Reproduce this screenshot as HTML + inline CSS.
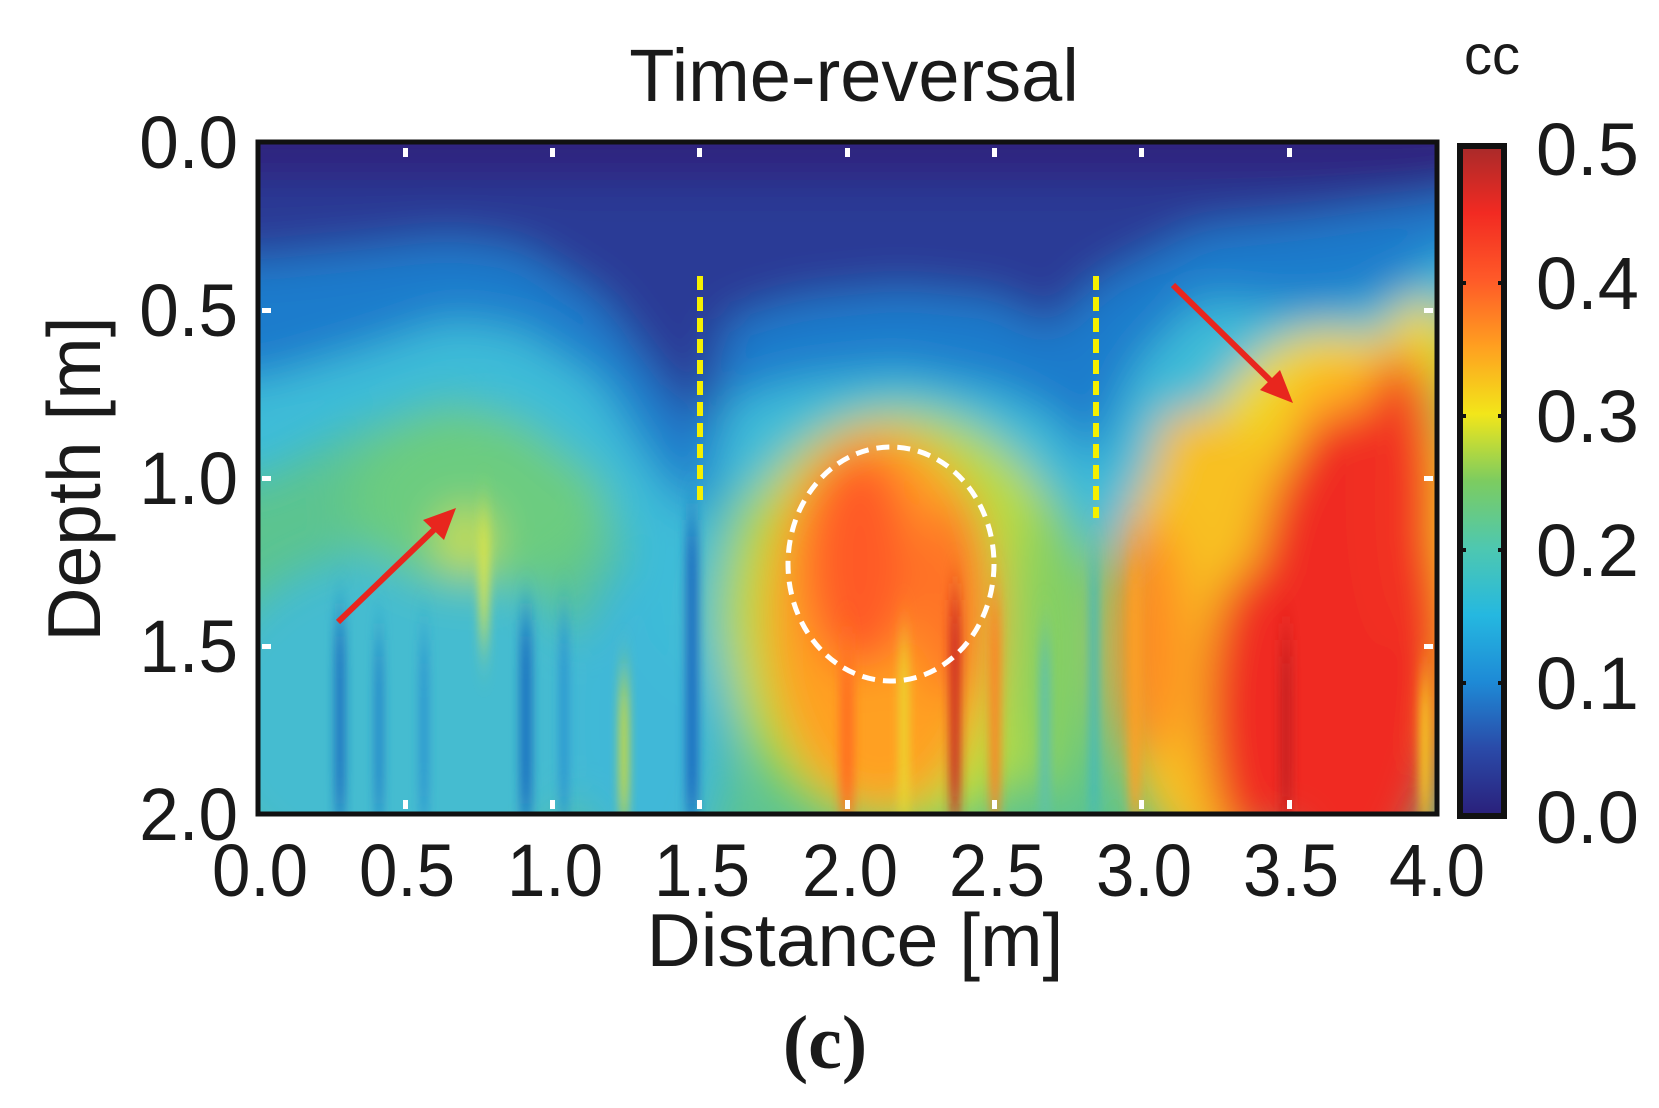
<!DOCTYPE html>
<html><head><meta charset="utf-8"><style>
html,body{margin:0;padding:0;background:#fff;}
svg{display:block;}
text{font-family:"Liberation Sans",sans-serif;fill:#1a1a1a;}
</style></head><body>
<svg width="1659" height="1108" viewBox="0 0 1659 1108" xmlns="http://www.w3.org/2000/svg">
<defs>
<clipPath id="pc"><rect x="258" y="142" width="1179" height="672"/></clipPath>
<filter id="b1" x="-20%" y="-20%" width="140%" height="140%"><feGaussianBlur stdDeviation="22"/></filter>
<filter id="bs" x="-50%" y="-20%" width="200%" height="140%"><feGaussianBlur stdDeviation="5 25"/></filter>
<linearGradient id="cb" x1="0" y1="1" x2="0" y2="0">
<stop offset="0" stop-color="#2a1f7a"/><stop offset="0.1" stop-color="#2a4aa8"/><stop offset="0.2" stop-color="#1e8ad6"/>
<stop offset="0.3" stop-color="#25b8e0"/><stop offset="0.4" stop-color="#4ec8b0"/><stop offset="0.5" stop-color="#7ccc60"/>
<stop offset="0.6" stop-color="#f2e61a"/><stop offset="0.7" stop-color="#ffa020"/><stop offset="0.8" stop-color="#ff5a28"/>
<stop offset="0.9" stop-color="#f22a22"/><stop offset="1" stop-color="#a82a2a"/>
</linearGradient>
</defs>
<g clip-path="url(#pc)">
<rect x="258" y="142" width="1179" height="672" fill="#5cc490"/>
<g filter="url(#b1)">
<ellipse cx="400" cy="720" rx="200" ry="170" fill="#45bcd0"/>
<ellipse cx="650" cy="720" rx="80" ry="170" fill="#40b8d8"/>
<ellipse cx="480" cy="500" rx="130" ry="90" fill="#6ccc80"/>
<polygon points="200,100 1500,100 1500,300 1437,330 1380,380 1300,420 1200,440 1140,520 1090,560 1060,500 1000,480 900,470 800,480 730,500 700,700 650,640 600,480 520,420 450,400 360,430 258,480 200,480" fill="#3cbcd8"/>
<polygon points="200,100 1500,100 1500,240 1437,260 1380,300 1300,310 1200,300 1140,360 1090,470 1060,420 1000,390 900,370 800,380 730,400 700,520 650,460 600,380 520,330 450,320 360,350 258,380 200,380" fill="#1c7ccc"/>
<polygon points="200,100 1500,100 1500,180 1437,200 1300,220 1200,230 1100,280 1050,330 1000,300 900,290 800,300 730,320 700,430 660,380 600,300 520,250 450,240 360,250 258,260 200,260" fill="#2c3a96"/>
<rect x="200" y="100" width="1300" height="80" fill="#2e237e"/>
<ellipse cx="900" cy="620" rx="180" ry="210" fill="#b8dc40"/>
<ellipse cx="1050" cy="650" rx="40" ry="150" fill="#88d060"/>
<ellipse cx="1330" cy="580" rx="160" ry="250" fill="#f0d820"/>
<ellipse cx="1220" cy="640" rx="110" ry="220" fill="#f8c020"/>
<ellipse cx="1420" cy="360" rx="40" ry="60" fill="#f0d820"/>
<ellipse cx="1340" cy="420" rx="55" ry="60" fill="#ffb020"/>
<ellipse cx="1190" cy="450" rx="35" ry="40" fill="#f8c020"/>
<ellipse cx="880" cy="620" rx="115" ry="190" fill="#ffa020"/>
<ellipse cx="860" cy="560" rx="55" ry="110" fill="#ff5a28"/>
<ellipse cx="950" cy="600" rx="28" ry="100" fill="#ff6a28"/>
<ellipse cx="1350" cy="650" rx="100" ry="240" fill="#f02a22"/>
<ellipse cx="1250" cy="710" rx="45" ry="140" fill="#f02a22"/>
<ellipse cx="1400" cy="500" rx="40" ry="150" fill="#f23022"/>
<ellipse cx="1150" cy="640" rx="35" ry="120" fill="#ff8a22"/>
<ellipse cx="465" cy="540" rx="25" ry="30" fill="#d8e040"/>
</g>
<g filter="url(#bs)">
<rect x="335" y="620" width="10" height="200" fill="#1e70c0"/>
<rect x="375" y="640" width="8" height="180" fill="#2080c8"/>
<rect x="420" y="640" width="8" height="180" fill="#2a90d0"/>
<rect x="520" y="620" width="12" height="200" fill="#1e70c0"/>
<rect x="560" y="620" width="8" height="200" fill="#2a90d0"/>
<rect x="686" y="520" width="12" height="300" fill="#1e6ac0"/>
<rect x="620" y="680" width="8" height="140" fill="#e8e020"/>
<rect x="840" y="650" width="14" height="170" fill="#ff7020"/>
<rect x="900" y="640" width="8" height="180" fill="#e8e030"/>
<rect x="950" y="600" width="10" height="220" fill="#c82020"/>
<rect x="990" y="600" width="10" height="220" fill="#ff8020"/>
<rect x="1040" y="640" width="10" height="180" fill="#5cc0b0"/>
<rect x="1090" y="560" width="8" height="260" fill="#40b8c0"/>
<rect x="1130" y="560" width="10" height="260" fill="#ffa020"/>
<rect x="1280" y="640" width="12" height="180" fill="#c82020"/>
<rect x="1420" y="680" width="10" height="140" fill="#f8d020"/>
<rect x="480" y="520" width="8" height="120" fill="#e8e840"/>
</g>
</g>
<rect x="258" y="142" width="1179" height="672" fill="none" stroke="#111" stroke-width="5"/>
<g fill="#fff">
<rect x="403" y="148" width="5" height="9"/><rect x="550" y="148" width="5" height="9"/><rect x="697" y="148" width="5" height="9"/>
<rect x="845" y="148" width="5" height="9"/><rect x="992" y="148" width="5" height="9"/><rect x="1139" y="148" width="5" height="9"/><rect x="1287" y="148" width="5" height="9"/>
<rect x="403" y="800" width="5" height="9"/><rect x="550" y="800" width="5" height="9"/><rect x="697" y="800" width="5" height="9"/>
<rect x="845" y="800" width="5" height="9"/><rect x="992" y="800" width="5" height="9"/><rect x="1139" y="800" width="5" height="9"/><rect x="1287" y="800" width="5" height="9"/>
<rect x="262" y="308" width="9" height="5"/><rect x="262" y="476" width="9" height="5"/><rect x="262" y="644" width="9" height="5"/>
<rect x="1424" y="308" width="9" height="5"/><rect x="1424" y="476" width="9" height="5"/><rect x="1424" y="644" width="9" height="5"/>
</g>
<line x1="700" y1="276" x2="700" y2="505" stroke="#f5f000" stroke-width="6" stroke-dasharray="14 7"/>
<line x1="1096" y1="276" x2="1096" y2="518" stroke="#f5f000" stroke-width="6" stroke-dasharray="14 7"/>
<ellipse cx="891" cy="564" rx="103" ry="117" fill="none" stroke="#fff" stroke-width="5" stroke-dasharray="13 8"/>
<g stroke="#e8261e" stroke-width="6" fill="#e8261e">
<line x1="338" y1="622" x2="440" y2="524"/>
<polygon points="456,508 423,520 444,540" stroke="none"/>
<line x1="1173" y1="285" x2="1278" y2="388"/>
<polygon points="1293,403 1260,390 1280,370" stroke="none"/>
</g>
<rect x="1460" y="146" width="44" height="670" fill="url(#cb)" stroke="#111" stroke-width="6"/>
<g fill="#111">
<rect x="1460" y="281" width="6" height="4"/><rect x="1498" y="281" width="6" height="4"/>
<rect x="1460" y="414" width="6" height="4"/><rect x="1498" y="414" width="6" height="4"/>
<rect x="1460" y="548" width="6" height="4"/><rect x="1498" y="548" width="6" height="4"/>
<rect x="1460" y="681" width="6" height="4"/><rect x="1498" y="681" width="6" height="4"/>
</g>
<text x="854" y="101" font-size="74" text-anchor="middle">Time-reversal</text>
<text x="1492" y="74" font-size="56" text-anchor="middle">cc</text>
<g font-size="74" text-anchor="end" transform="translate(238,0) scale(0.96,1) translate(-238,0)">
<text x="238" y="168">0.0</text><text x="238" y="336">0.5</text><text x="238" y="504">1.0</text>
<text x="238" y="672">1.5</text><text x="238" y="840">2.0</text>
</g>
<g font-size="74" text-anchor="middle">
<text x="260" y="896" textLength="96" lengthAdjust="spacingAndGlyphs">0.0</text><text x="407" y="896" textLength="96" lengthAdjust="spacingAndGlyphs">0.5</text><text x="555" y="896" textLength="96" lengthAdjust="spacingAndGlyphs">1.0</text>
<text x="702" y="896" textLength="96" lengthAdjust="spacingAndGlyphs">1.5</text><text x="850" y="896" textLength="96" lengthAdjust="spacingAndGlyphs">2.0</text><text x="997" y="896" textLength="96" lengthAdjust="spacingAndGlyphs">2.5</text>
<text x="1144" y="896" textLength="96" lengthAdjust="spacingAndGlyphs">3.0</text><text x="1291" y="896" textLength="96" lengthAdjust="spacingAndGlyphs">3.5</text><text x="1437" y="896" textLength="96" lengthAdjust="spacingAndGlyphs">4.0</text>
</g>
<g font-size="74">
<text x="1536" y="175">0.5</text><text x="1536" y="309">0.4</text><text x="1536" y="442">0.3</text>
<text x="1536" y="576">0.2</text><text x="1536" y="709">0.1</text><text x="1536" y="843">0.0</text>
</g>
<text x="855" y="966" font-size="75" text-anchor="middle">Distance [m]</text>
<text transform="translate(100,479) rotate(-90)" font-size="75" text-anchor="middle">Depth [m]</text>
<text x="825" y="1068" font-size="76" text-anchor="middle" style="font-family:'Liberation Serif',serif;font-weight:bold">(c)</text>
</svg>
</body></html>
